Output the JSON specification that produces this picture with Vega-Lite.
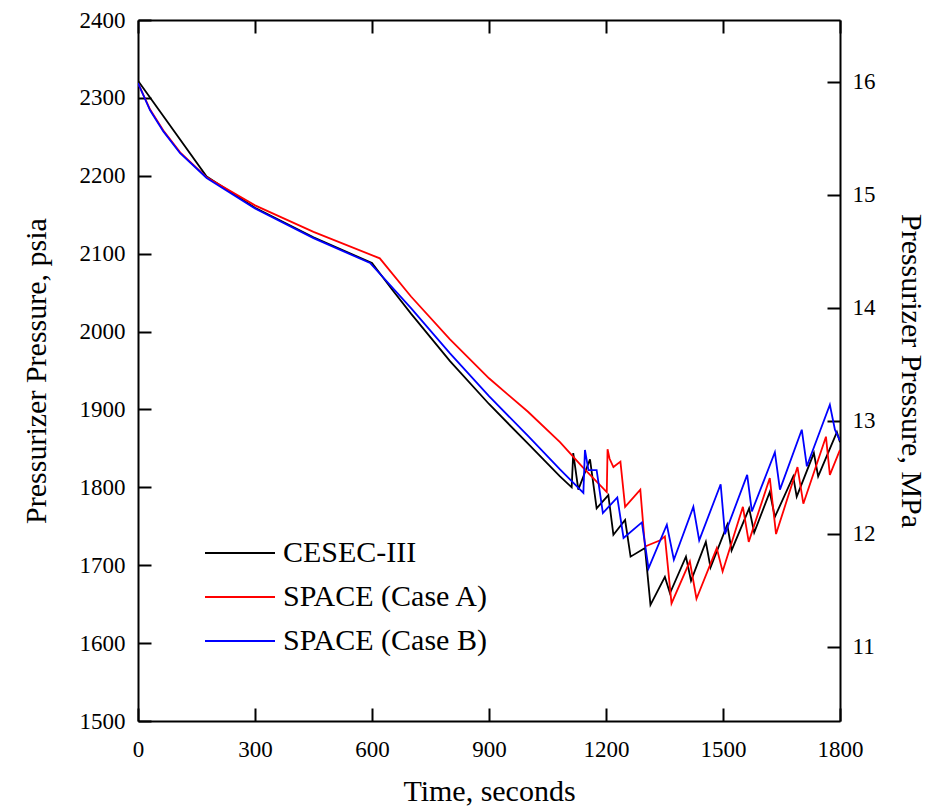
{
  "$schema": "https://vega.github.io/schema/vega-lite/v6.json",
  "width": 702,
  "height": 701,
  "autosize": {"type": "none"},
  "padding": {"left": 138, "top": 20, "right": 106, "bottom": 87},
  "background": "white",
  "config": {
    "font": "Liberation Serif",
    "view": {"stroke": null},
    "axis": {
      "domainColor": "black", "domainWidth": 2,
      "tickColor": "black", "tickWidth": 2, "tickSize": -13,
      "labelColor": "black", "labelFontSize": 23, "labelFont": "Liberation Serif", "format": "d",
      "labelFlush": false,
      "titleColor": "black", "titleFontSize": 30, "titleFont": "Liberation Serif", "titleFontWeight": "normal",
      "grid": false
    }
  },
  "layer": [
    {
      "data": {"values": [
        {"series": "CESEC-III", "t": 0, "p": 2322},
        {"series": "CESEC-III", "t": 176, "p": 2199},
        {"series": "CESEC-III", "t": 300, "p": 2159},
        {"series": "CESEC-III", "t": 450, "p": 2121},
        {"series": "CESEC-III", "t": 600, "p": 2088},
        {"series": "CESEC-III", "t": 650, "p": 2055},
        {"series": "CESEC-III", "t": 700, "p": 2023},
        {"series": "CESEC-III", "t": 800, "p": 1962},
        {"series": "CESEC-III", "t": 900, "p": 1907},
        {"series": "CESEC-III", "t": 1000, "p": 1856},
        {"series": "CESEC-III", "t": 1082, "p": 1814},
        {"series": "CESEC-III", "t": 1112, "p": 1800},
        {"series": "CESEC-III", "t": 1116, "p": 1844},
        {"series": "CESEC-III", "t": 1129, "p": 1797},
        {"series": "CESEC-III", "t": 1159, "p": 1836},
        {"series": "CESEC-III", "t": 1176, "p": 1773},
        {"series": "CESEC-III", "t": 1206, "p": 1790},
        {"series": "CESEC-III", "t": 1219, "p": 1739},
        {"series": "CESEC-III", "t": 1249, "p": 1758},
        {"series": "CESEC-III", "t": 1263, "p": 1711},
        {"series": "CESEC-III", "t": 1300, "p": 1722},
        {"series": "CESEC-III", "t": 1314, "p": 1649},
        {"series": "CESEC-III", "t": 1351, "p": 1685},
        {"series": "CESEC-III", "t": 1364, "p": 1664},
        {"series": "CESEC-III", "t": 1405, "p": 1711},
        {"series": "CESEC-III", "t": 1418, "p": 1680},
        {"series": "CESEC-III", "t": 1456, "p": 1730},
        {"series": "CESEC-III", "t": 1468, "p": 1697},
        {"series": "CESEC-III", "t": 1511, "p": 1752},
        {"series": "CESEC-III", "t": 1522, "p": 1719},
        {"series": "CESEC-III", "t": 1567, "p": 1773},
        {"series": "CESEC-III", "t": 1580, "p": 1742},
        {"series": "CESEC-III", "t": 1620, "p": 1794},
        {"series": "CESEC-III", "t": 1633, "p": 1762},
        {"series": "CESEC-III", "t": 1680, "p": 1814},
        {"series": "CESEC-III", "t": 1689, "p": 1788},
        {"series": "CESEC-III", "t": 1733, "p": 1844},
        {"series": "CESEC-III", "t": 1744, "p": 1814},
        {"series": "CESEC-III", "t": 1792, "p": 1871},
        {"series": "CESEC-III", "t": 1800, "p": 1858},
        {"series": "SPACE (Case A)", "t": 0, "p": 2319},
        {"series": "SPACE (Case A)", "t": 31, "p": 2285},
        {"series": "SPACE (Case A)", "t": 65, "p": 2258},
        {"series": "SPACE (Case A)", "t": 108, "p": 2230},
        {"series": "SPACE (Case A)", "t": 176, "p": 2198},
        {"series": "SPACE (Case A)", "t": 300, "p": 2162},
        {"series": "SPACE (Case A)", "t": 450, "p": 2128},
        {"series": "SPACE (Case A)", "t": 620, "p": 2094},
        {"series": "SPACE (Case A)", "t": 700, "p": 2045},
        {"series": "SPACE (Case A)", "t": 800, "p": 1990},
        {"series": "SPACE (Case A)", "t": 900, "p": 1940},
        {"series": "SPACE (Case A)", "t": 1000, "p": 1897},
        {"series": "SPACE (Case A)", "t": 1082, "p": 1858},
        {"series": "SPACE (Case A)", "t": 1140, "p": 1826},
        {"series": "SPACE (Case A)", "t": 1202, "p": 1794},
        {"series": "SPACE (Case A)", "t": 1204, "p": 1849},
        {"series": "SPACE (Case A)", "t": 1209, "p": 1837},
        {"series": "SPACE (Case A)", "t": 1219, "p": 1826},
        {"series": "SPACE (Case A)", "t": 1237, "p": 1833},
        {"series": "SPACE (Case A)", "t": 1249, "p": 1775},
        {"series": "SPACE (Case A)", "t": 1288, "p": 1797},
        {"series": "SPACE (Case A)", "t": 1300, "p": 1724},
        {"series": "SPACE (Case A)", "t": 1339, "p": 1732},
        {"series": "SPACE (Case A)", "t": 1351, "p": 1737},
        {"series": "SPACE (Case A)", "t": 1368, "p": 1651},
        {"series": "SPACE (Case A)", "t": 1415, "p": 1705},
        {"series": "SPACE (Case A)", "t": 1432, "p": 1657},
        {"series": "SPACE (Case A)", "t": 1484, "p": 1722},
        {"series": "SPACE (Case A)", "t": 1499, "p": 1692},
        {"series": "SPACE (Case A)", "t": 1551, "p": 1775},
        {"series": "SPACE (Case A)", "t": 1566, "p": 1730},
        {"series": "SPACE (Case A)", "t": 1620, "p": 1812},
        {"series": "SPACE (Case A)", "t": 1636, "p": 1740},
        {"series": "SPACE (Case A)", "t": 1691, "p": 1826},
        {"series": "SPACE (Case A)", "t": 1706, "p": 1779},
        {"series": "SPACE (Case A)", "t": 1764, "p": 1865},
        {"series": "SPACE (Case A)", "t": 1774, "p": 1816},
        {"series": "SPACE (Case A)", "t": 1800, "p": 1848},
        {"series": "SPACE (Case B)", "t": 0, "p": 2319},
        {"series": "SPACE (Case B)", "t": 31, "p": 2284},
        {"series": "SPACE (Case B)", "t": 65, "p": 2257},
        {"series": "SPACE (Case B)", "t": 108, "p": 2229},
        {"series": "SPACE (Case B)", "t": 168, "p": 2201},
        {"series": "SPACE (Case B)", "t": 176, "p": 2197},
        {"series": "SPACE (Case B)", "t": 300, "p": 2158},
        {"series": "SPACE (Case B)", "t": 450, "p": 2120},
        {"series": "SPACE (Case B)", "t": 595, "p": 2088},
        {"series": "SPACE (Case B)", "t": 700, "p": 2030},
        {"series": "SPACE (Case B)", "t": 800, "p": 1972},
        {"series": "SPACE (Case B)", "t": 900, "p": 1917},
        {"series": "SPACE (Case B)", "t": 1000, "p": 1866},
        {"series": "SPACE (Case B)", "t": 1082, "p": 1823},
        {"series": "SPACE (Case B)", "t": 1142, "p": 1793},
        {"series": "SPACE (Case B)", "t": 1146, "p": 1848},
        {"series": "SPACE (Case B)", "t": 1155, "p": 1822},
        {"series": "SPACE (Case B)", "t": 1176, "p": 1822},
        {"series": "SPACE (Case B)", "t": 1192, "p": 1767},
        {"series": "SPACE (Case B)", "t": 1229, "p": 1787},
        {"series": "SPACE (Case B)", "t": 1245, "p": 1735},
        {"series": "SPACE (Case B)", "t": 1292, "p": 1755},
        {"series": "SPACE (Case B)", "t": 1309, "p": 1696},
        {"series": "SPACE (Case B)", "t": 1356, "p": 1752},
        {"series": "SPACE (Case B)", "t": 1374, "p": 1707},
        {"series": "SPACE (Case B)", "t": 1424, "p": 1775},
        {"series": "SPACE (Case B)", "t": 1439, "p": 1732},
        {"series": "SPACE (Case B)", "t": 1494, "p": 1804},
        {"series": "SPACE (Case B)", "t": 1505, "p": 1740},
        {"series": "SPACE (Case B)", "t": 1562, "p": 1816},
        {"series": "SPACE (Case B)", "t": 1574, "p": 1769},
        {"series": "SPACE (Case B)", "t": 1633, "p": 1845},
        {"series": "SPACE (Case B)", "t": 1646, "p": 1797},
        {"series": "SPACE (Case B)", "t": 1702, "p": 1874},
        {"series": "SPACE (Case B)", "t": 1715, "p": 1827},
        {"series": "SPACE (Case B)", "t": 1774, "p": 1906},
        {"series": "SPACE (Case B)", "t": 1787, "p": 1874},
        {"series": "SPACE (Case B)", "t": 1800, "p": 1860}
      ]},
      "mark": {"type": "line", "strokeWidth": 1.8, "clip": true},
      "encoding": {
        "x": {"field": "t", "type": "quantitative",
              "scale": {"domain": [0, 1800], "nice": false},
              "axis": {"values": [0, 300, 600, 900, 1200, 1500, 1800], "title": "Time, seconds",
                       "labelPadding": 30, "titlePadding": 15}},
        "y": {"field": "p", "type": "quantitative",
              "scale": {"domain": [1500, 2400], "nice": false, "zero": false},
              "axis": {"values": [1500, 1600, 1700, 1800, 1900, 2000, 2100, 2200, 2300, 2400],
                       "title": "Pressurizer Pressure, psia", "labelPadding": 26, "titlePadding": 28}},
        "color": {"field": "series", "type": "nominal",
                  "scale": {"domain": ["CESEC-III", "SPACE (Case A)", "SPACE (Case B)"],
                            "range": ["#000000", "#ff0000", "#0000ff"]},
                  "legend": {"title": null, "orient": "none", "legendX": 59, "legendY": 518,
                             "symbolType": "M-1,0H9", "symbolSize": 196, "symbolStrokeWidth": 1.8,
                             "labelFontSize": 30, "labelFont": "Liberation Serif", "labelColor": "black",
                             "labelLimit": 400, "labelOffset": 56, "rowPadding": 14}},
        "order": {"field": "t", "type": "quantitative"}
      }
    },
    {
      "data": {"values": [{"tt": 0, "mpa": 11}, {"tt": 1800, "mpa": 16}]},
      "mark": {"type": "point", "opacity": 0},
      "encoding": {
        "x": {"field": "tt", "type": "quantitative",
              "scale": {"domain": [0, 1800], "nice": false},
              "axis": {"orient": "top", "values": [0, 300, 600, 900, 1200, 1500, 1800], "labels": false, "title": null}},
        "y": {"field": "mpa", "type": "quantitative",
              "scale": {"domain": [10.3421, 16.5474], "nice": false, "zero": false},
              "axis": {"orient": "right", "values": [11, 12, 13, 14, 15, 16],
                       "title": "Pressurizer Pressure, MPa", "labelPadding": 25, "titlePadding": 20}}
      }
    }
  ],
  "resolve": {"scale": {"x": "independent", "y": "independent"}, "axis": {"x": "independent", "y": "independent"}}
}
